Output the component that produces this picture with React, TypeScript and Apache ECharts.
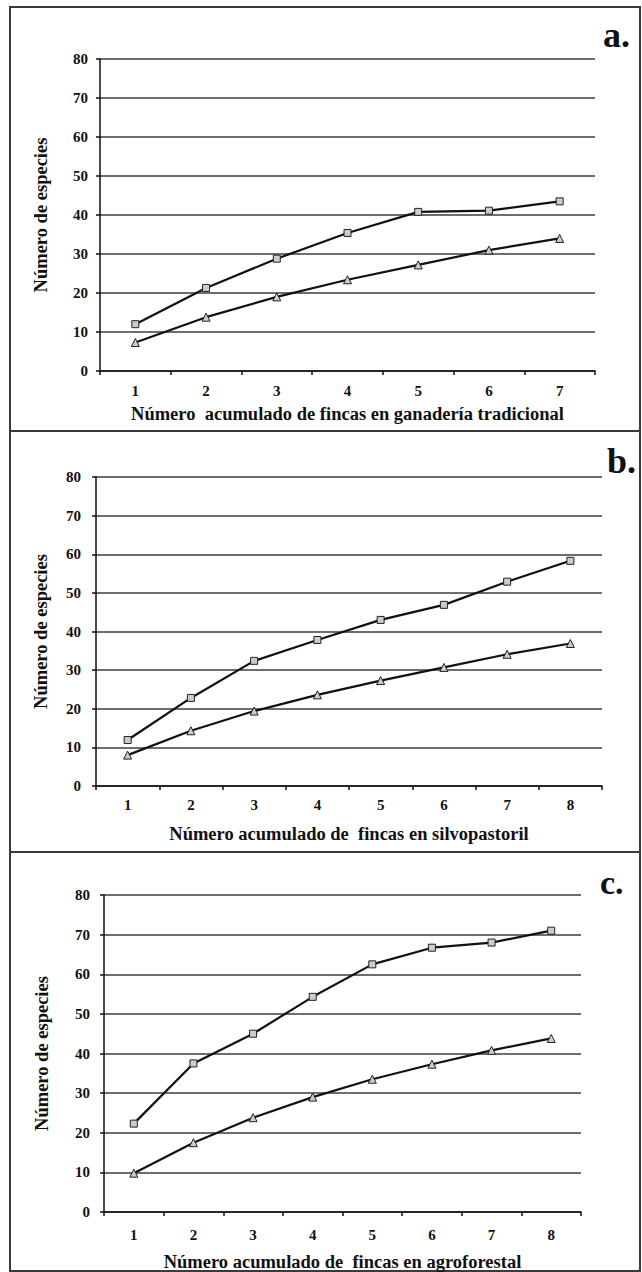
import React, { useEffect, useRef } from "react";
import * as echarts from "echarts";

const catsA = ["1", "2", "3", "4", "5", "6", "7"];
const catsBC = ["1", "2", "3", "4", "5", "6", "7", "8"];

const squaresA = [12, 21.3, 28.8, 35.4, 40.8, 41.1, 43.5];
const trianglesA = [7.3, 13.8, 19.0, 23.4, 27.2, 31.0, 34.0];

const squaresB = [11.9, 22.8, 32.4, 37.8, 43.0, 46.9, 52.9, 58.3];
const trianglesB = [8.0, 14.3, 19.4, 23.6, 27.3, 30.7, 34.1, 36.9];

const squaresC = [22.3, 37.5, 45.0, 54.3, 62.5, 66.7, 68.0, 71.0];
const trianglesC = [9.8, 17.5, 23.8, 29.0, 33.5, 37.3, 40.8, 43.8];

const yTitle = "Número de especies";
const xTitleA = "Número  acumulado de fincas en ganadería tradicional";
const xTitleB = "Número acumulado de  fincas en silvopastoril";
const xTitleC = "Número acumulado de  fincas en agroforestal";
const panelLabels = ["a.", "b.", "c."];

const SERIF = "Liberation Serif";

const panels = [
  { cats: catsA, sq: squaresA, tr: trianglesA, xName: xTitleA, grid: { left: 100, top: 59, width: 495, height: 312 }, xGap: 33, yGap: 50, xLabM: 12, yLabM: 12 },
  { cats: catsBC, sq: squaresB, tr: trianglesB, xName: xTitleB, grid: { left: 96, top: 477, width: 506, height: 309 }, xGap: 38, yGap: 46, xLabM: 11, yLabM: 15 },
  { cats: catsBC, sq: squaresC, tr: trianglesC, xName: xTitleC, grid: { left: 104, top: 895, width: 477, height: 320 }, xGap: 40, yGap: 53, xLabM: 15, yLabM: 14 },
];

export default function App() {
  const ref = useRef<HTMLDivElement>(null);
  useEffect(() => {
    if (!ref.current) return;
    const chart = echarts.init(ref.current, null, { renderer: "svg" });
    const grids: any[] = [];
    const xAxes: any[] = [];
    const yAxes: any[] = [];
    const series: any[] = [];
    panels.forEach((p, i) => {
      grids.push({ ...p.grid, containLabel: false });
      xAxes.push({
        type: "category",
        gridIndex: i,
        data: p.cats,
        boundaryGap: true,
        name: p.xName,
        nameLocation: "middle",
        nameGap: p.xGap,
        nameTextStyle: { fontFamily: SERIF, fontWeight: "bold", fontSize: 18.5, color: "#111" },
        axisLine: { show: true, lineStyle: { color: "#111", width: 1.5 } },
        axisTick: { show: true, interval: 0, length: 4, lineStyle: { color: "#111", width: 1.5 } },
        axisLabel: { fontFamily: SERIF, fontWeight: "bold", fontSize: 15, color: "#111", margin: p.xLabM },
        splitLine: { show: false },
      });
      yAxes.push({
        type: "value",
        gridIndex: i,
        min: 0,
        max: 80,
        interval: 10,
        name: yTitle,
        nameLocation: "middle",
        nameGap: p.yGap,
        nameTextStyle: { fontFamily: SERIF, fontWeight: "bold", fontSize: 18.5, color: "#111" },
        axisLine: { show: true, lineStyle: { color: "#111", width: 1.5 } },
        axisTick: { show: true, length: 4, lineStyle: { color: "#111", width: 1.5 } },
        axisLabel: { fontFamily: SERIF, fontWeight: "bold", fontSize: 15, color: "#111", margin: p.yLabM },
        splitLine: { show: true, lineStyle: { color: "#6e6e6e", width: 2 } },
      });
      series.push({
        type: "line",
        xAxisIndex: i,
        yAxisIndex: i,
        data: p.sq,
        symbol: "rect",
        symbolSize: 7,
        showSymbol: true,
        lineStyle: { color: "#111", width: 2.2 },
        itemStyle: { color: "#ccc", borderColor: "#222", borderWidth: 1 },
      });
      series.push({
        type: "line",
        xAxisIndex: i,
        yAxisIndex: i,
        data: p.tr,
        symbol: "triangle",
        symbolSize: 8,
        showSymbol: true,
        lineStyle: { color: "#111", width: 2.2 },
        itemStyle: { color: "#ccc", borderColor: "#222", borderWidth: 1 },
      });
    });
    const border = { stroke: "#3a3a3a", lineWidth: 2 };
    const graphic: any[] = [
      { type: "rect", shape: { x: 10, y: 7, width: 630, height: 1264 }, style: { fill: "none", ...border } },
      { type: "line", shape: { x1: 10, y1: 431, x2: 640, y2: 431 }, style: border },
      { type: "line", shape: { x1: 10, y1: 852, x2: 640, y2: 852 }, style: border },
      { type: "text", x: 603, y: 53, style: { text: panelLabels[0], font: "bold 36px " + SERIF, fill: "#111", textVerticalAlign: "bottom" } },
      { type: "text", x: 607, y: 479, style: { text: panelLabels[1], font: "bold 36px " + SERIF, fill: "#111", textVerticalAlign: "bottom" } },
      { type: "text", x: 600, y: 899, style: { text: panelLabels[2], font: "bold 34px " + SERIF, fill: "#111", textVerticalAlign: "bottom" } },
    ];
    chart.setOption({
      animation: false,
      backgroundColor: "#fff",
      grid: grids,
      xAxis: xAxes,
      yAxis: yAxes,
      series,
      graphic,
    });
    return () => chart.dispose();
  }, []);
  return <div ref={ref} style={{ position: "absolute", left: 0, top: 0, width: 642, height: 1272 }} />;
}
